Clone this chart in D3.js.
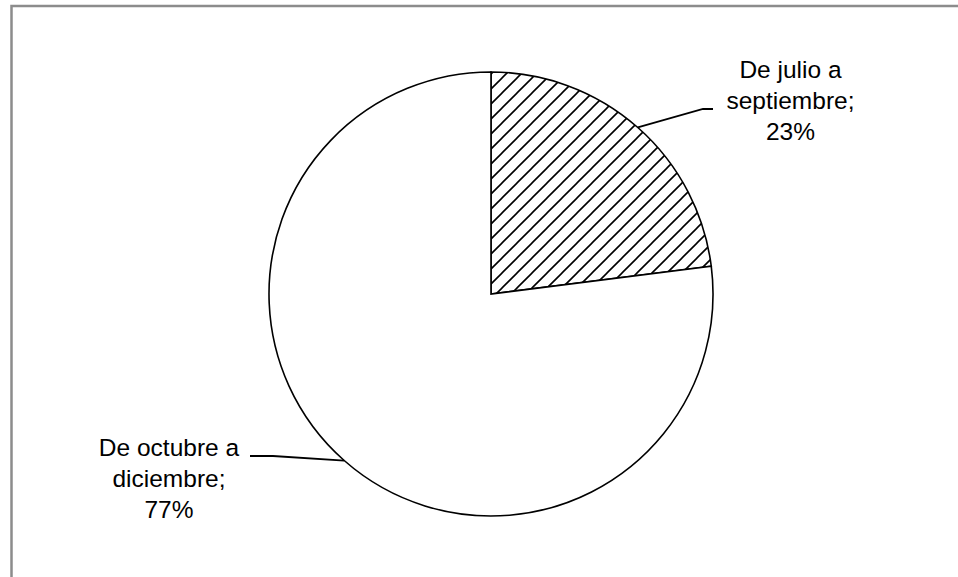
<!DOCTYPE html>
<html>
<head>
<meta charset="utf-8">
<script src="https://cdn.jsdelivr.net/npm/d3@7"></script>
<style>
  body { margin: 0; background: #fff; }
  svg { display: block; }
</style>
</head>
<body>
<svg id="chart" width="958" height="577"></svg>
<script>
const categories = ["De julio a septiembre", "De octubre a diciembre"];
const values = [23, 77];
const labelLines = [["De julio a", "septiembre;", "23%"], ["De octubre a", "diciembre;", "77%"]];

const W = 958, H = 577;
const svg = d3.select("#chart");
const cx = 491, cy = 294, R = 222;

// outer border (partly cropped)
svg.append("rect").attr("x", 11.5).attr("y", 6).attr("width", 1000).attr("height", 700)
  .attr("fill", "#fff").attr("stroke", "#8c8c8c").attr("stroke-width", 2.5);

const defs = svg.append("defs");
const pat = defs.append("pattern").attr("id", "hatch").attr("patternUnits", "userSpaceOnUse")
  .attr("width", 15).attr("height", 15).attr("x", cx).attr("y", cy);
pat.append("rect").attr("width", 15).attr("height", 15).attr("fill", "#fff");
pat.append("path").attr("d", "M-3,3 L3,-3 M0,15 L15,0 M12,18 L18,12")
  .attr("stroke", "#000").attr("stroke-width", 1.6);

const pie = d3.pie().sort(null).value(d => d);
const arcs = pie(values);
const arc = d3.arc().innerRadius(0).outerRadius(R);
const g = svg.append("g").attr("transform", `translate(${cx},${cy})`);
g.selectAll("path").data(arcs).join("path")
  .attr("d", arc)
  .attr("fill", (d, i) => i === 0 ? "url(#hatch)" : "#fff")
  .attr("stroke", "#000").attr("stroke-width", 1.6);

// leader lines and labels
const pt = d3.arc().innerRadius(R).outerRadius(R);
const labelPos = [
  { elbow: [703, 109], end: [713, 109], x: 790.5, y: 78 },
  { elbow: [273, 456], end: [250, 456], x: 169, y: 456 }
];
arcs.forEach((a, i) => {
  const c = pt.centroid(a);
  const p0 = [cx + c[0], cy + c[1]];
  const lp = labelPos[i];
  svg.append("polyline")
    .attr("points", [p0, lp.elbow, lp.end].map(p => p.join(",")).join(" "))
    .attr("fill", "none").attr("stroke", "#000").attr("stroke-width", 1.8);
  const t = svg.append("text").attr("text-anchor", "middle")
    .attr("font-family", "Liberation Sans, Arial, sans-serif").attr("font-size", 24.5).attr("fill", "#000");
  labelLines[i].forEach((s, k) => {
    t.append("tspan").attr("x", lp.x).attr("y", lp.y + k * 31).text(s);
  });
});
</script>
</body>
</html>
